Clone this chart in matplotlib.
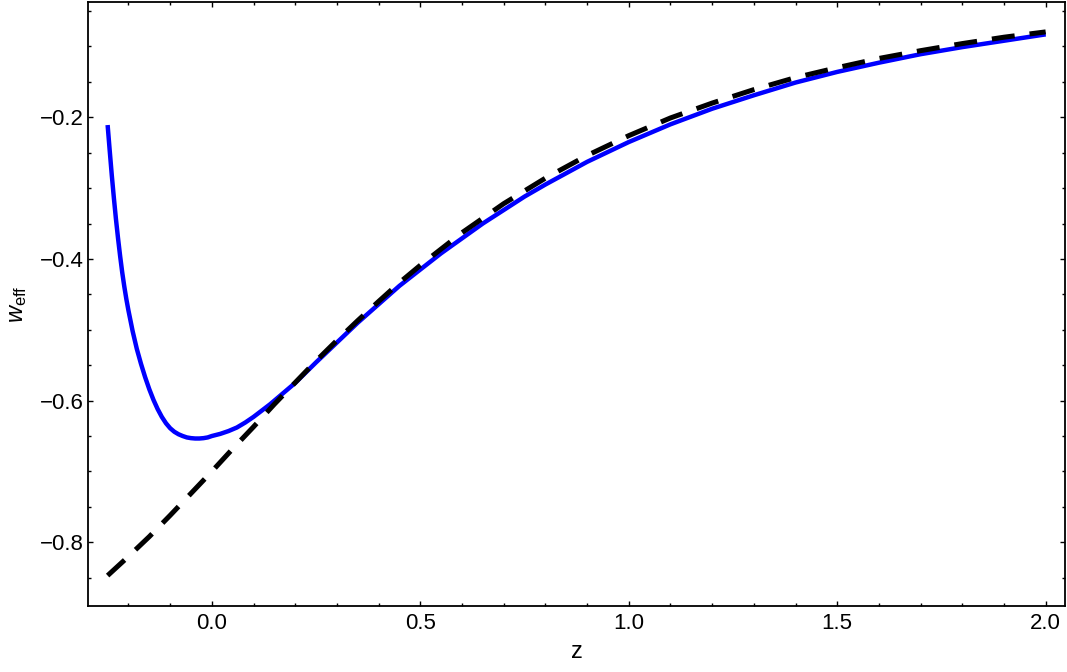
import matplotlib
matplotlib.use("Agg")
import matplotlib.pyplot as plt
from matplotlib.ticker import MultipleLocator, FuncFormatter

# values
z_model = [-0.250, -0.245, -0.240, -0.235, -0.230, -0.225, -0.220, -0.215,
           -0.210, -0.205, -0.200, -0.190, -0.180, -0.170, -0.160, -0.150,
           -0.140, -0.130, -0.120, -0.110, -0.100, -0.090, -0.080, -0.070,
           -0.060, -0.050, -0.040, -0.030, -0.020, -0.010, 0.000, 0.020,
           0.040, 0.060, 0.080, 0.100, 0.120, 0.140, 0.160, 0.180, 0.200,
           0.250, 0.300, 0.350, 0.400, 0.450, 0.500, 0.550, 0.600, 0.650,
           0.700, 0.750, 0.800, 0.900, 1.000, 1.100, 1.200, 1.300, 1.400,
           1.500, 1.600, 1.700, 1.800, 1.900, 2.000]
w_model = [-0.211, -0.247, -0.282, -0.314, -0.344, -0.371, -0.396, -0.419,
           -0.439, -0.457, -0.473, -0.502, -0.527, -0.548, -0.567, -0.584,
           -0.599, -0.612, -0.623, -0.632, -0.639, -0.644, -0.6475, -0.650,
           -0.652, -0.653, -0.6535, -0.6535, -0.653, -0.652, -0.650, -0.647,
           -0.643, -0.638, -0.631, -0.623, -0.614, -0.605, -0.595, -0.585,
           -0.575, -0.546, -0.518, -0.490, -0.464, -0.438, -0.415, -0.392,
           -0.371, -0.350, -0.331, -0.312, -0.295, -0.263, -0.235, -0.210,
           -0.188, -0.169, -0.151, -0.136, -0.123, -0.111, -0.101, -0.092,
           -0.083]

z_lcdm = [-0.25, -0.20, -0.15, -0.10, -0.05, 0.00, 0.05, 0.10, 0.15, 0.20,
          0.25, 0.30, 0.35, 0.40, 0.45, 0.50, 0.60, 0.70, 0.80, 0.90, 1.00,
          1.10, 1.20, 1.30, 1.40, 1.50, 1.60, 1.70, 1.80, 1.90, 2.00]
w_lcdm = [-0.847, -0.820, -0.792, -0.762, -0.731, -0.700, -0.668, -0.637,
          -0.605, -0.5745, -0.544, -0.515, -0.487, -0.460, -0.4335, -0.409,
          -0.363, -0.322, -0.286, -0.254, -0.226, -0.201, -0.180, -0.161,
          -0.144, -0.130, -0.117, -0.106, -0.096, -0.087, -0.0795]

plt.rcParams['font.family'] = ['Liberation Sans', 'DejaVu Sans']
plt.rcParams['mathtext.fontset'] = 'custom'
plt.rcParams['mathtext.rm'] = 'Liberation Sans'
plt.rcParams['mathtext.it'] = 'Liberation Sans:italic'

fig = plt.figure(figsize=(10.67, 6.72), dpi=100)
ax = fig.add_axes([0.0825, 0.0987, 0.9155, 0.8976])

ax.plot(z_model, w_model, color='#0000ff', lw=3.2, solid_capstyle='butt',
        solid_joinstyle='round', zorder=2)
ax.plot(z_lcdm, w_lcdm, color='black', lw=3.6, linestyle=(0, (4.6, 3.0)),
        dash_capstyle='butt', zorder=3)

ax.set_xlim(-0.297, 2.046)
ax.set_ylim(-0.8895, -0.038)

ax.xaxis.set_major_locator(MultipleLocator(0.5))
ax.xaxis.set_minor_locator(MultipleLocator(0.1))
ax.yaxis.set_major_locator(MultipleLocator(0.2))
ax.yaxis.set_minor_locator(MultipleLocator(0.05))
fmt = FuncFormatter(lambda v, p: ('%.1f' % v).replace('-', '\u2212'))
ax.xaxis.set_major_formatter(fmt)
ax.yaxis.set_major_formatter(fmt)

ax.tick_params(which='both', direction='in', top=True, right=True, width=1.0,
               labelsize=16)
ax.tick_params(axis='x', which='both', pad=5)
ax.tick_params(axis='y', which='both', pad=3)
ax.tick_params(which='major', length=3.5)
ax.tick_params(which='minor', length=2)
for s in ax.spines.values():
    s.set_linewidth(1.3)

ax.set_xlabel('z', fontsize=17, labelpad=5)
ax.set_ylabel(r'$w_{\mathrm{eff}}$', fontsize=17, labelpad=8)

fig.savefig('out.png', dpi=100)
